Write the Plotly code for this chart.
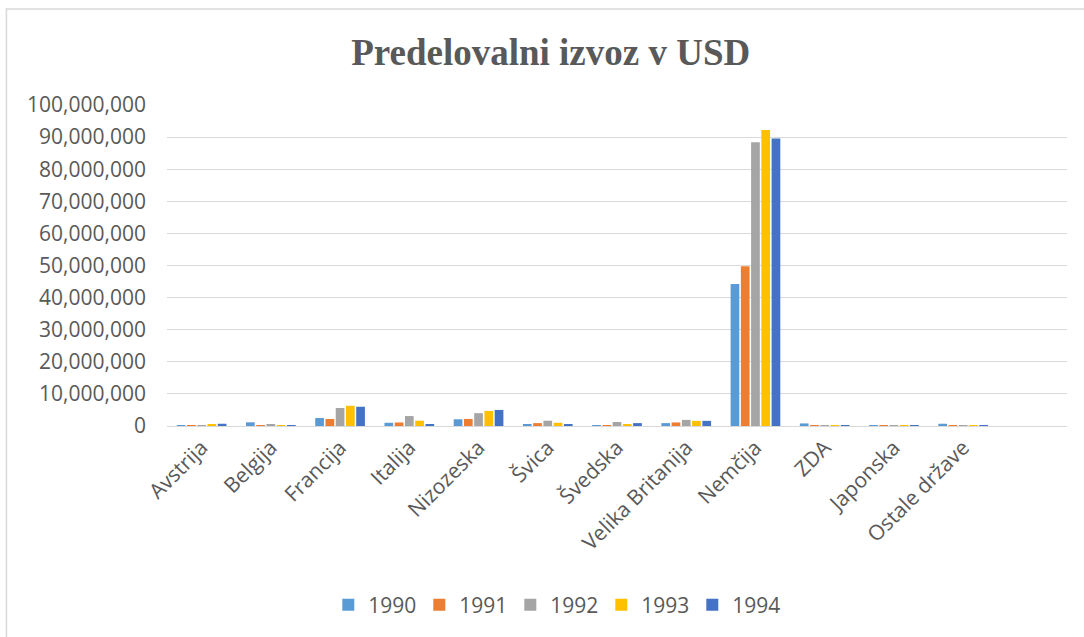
import plotly.graph_objects as go

categories = ["Avstrija", "Belgija", "Francija", "Italija", "Nizozeska", "Švica",
              "Švedska", "Velika Britanija", "Nemčija", "ZDA", "Japonska", "Ostale države"]
years = ["1990", "1991", "1992", "1993", "1994"]

v1990 = [100000, 1150000, 2500000, 1000000, 2100000, 600000, 50000, 900000, 44200000, 800000, 20000, 700000]
v1991 = [100000, 200000, 2200000, 1100000, 2200000, 900000, 200000, 1100000, 49800000, 50000, 20000, 50000]
v1992 = [300000, 600000, 5600000, 3100000, 4000000, 1650000, 1250000, 1900000, 88400000, 60000, 30000, 60000]
v1993 = [600000, 300000, 6300000, 1650000, 4700000, 1000000, 500000, 1600000, 92200000, 40000, 20000, 40000]
v1994 = [700000, 100000, 6000000, 600000, 5000000, 600000, 900000, 1600000, 89600000, 40000, 20000, 40000]

series = [v1990, v1991, v1992, v1993, v1994]
colors = ["#5B9BD5", "#ED7D31", "#A5A5A5", "#FFC000", "#4472C4"]

fig = go.Figure()
for name, vals, col in zip(years, series, colors):
    fig.add_trace(go.Bar(x=categories, y=vals, name=name, marker_color=col,
                         marker_line_width=0))

txt = "#595959"
fig.update_layout(
    width=1084, height=637,
    paper_bgcolor="white", plot_bgcolor="white",
    margin=dict(l=167, r=17, t=105, b=211, autoexpand=False),
    barmode="group", bargap=0.26, bargroupgap=0.15,
    title=dict(text="<b>Predelovalni izvoz v USD</b>", x=0.508, xanchor="center",
               y=0.918, yanchor="middle",
               font=dict(family="Liberation Serif", size=37, color=txt)),
    font=dict(family="Open Sans", color=txt, size=21),
    legend=dict(orientation="h", x=0.432, xanchor="center", y=-0.558, yanchor="middle",
                font=dict(size=21, color=txt), itemwidth=30,
                entrywidth=46, entrywidthmode="pixels"),
    showlegend=True,
)
fig.update_xaxes(type="category", range=[-0.5, 12.5], tickangle=-45,
                 showgrid=False, showline=True, linecolor="#D9D9D9", linewidth=1,
                 ticks="", tickfont=dict(size=21, color=txt))
fig.update_yaxes(range=[0, 100000000], dtick=10000000, tickformat=",d",
                 showgrid=True, gridcolor="#D9D9D9", gridwidth=1,
                 zeroline=False, ticks="", ticklabelstandoff=20,
                 tickfont=dict(size=21, color=txt))
fig.add_shape(type="rect", xref="paper", yref="paper",
              x0=-0.1784, x1=1.2, y0=-0.8, y1=1.299,
              line=dict(color="#D9D9D9", width=1.5), layer="below")

fig.write_html("out.html", config={"displayModeBar": False},
               post_script="document.body.style.margin='0';document.body.style.overflow='hidden';")
